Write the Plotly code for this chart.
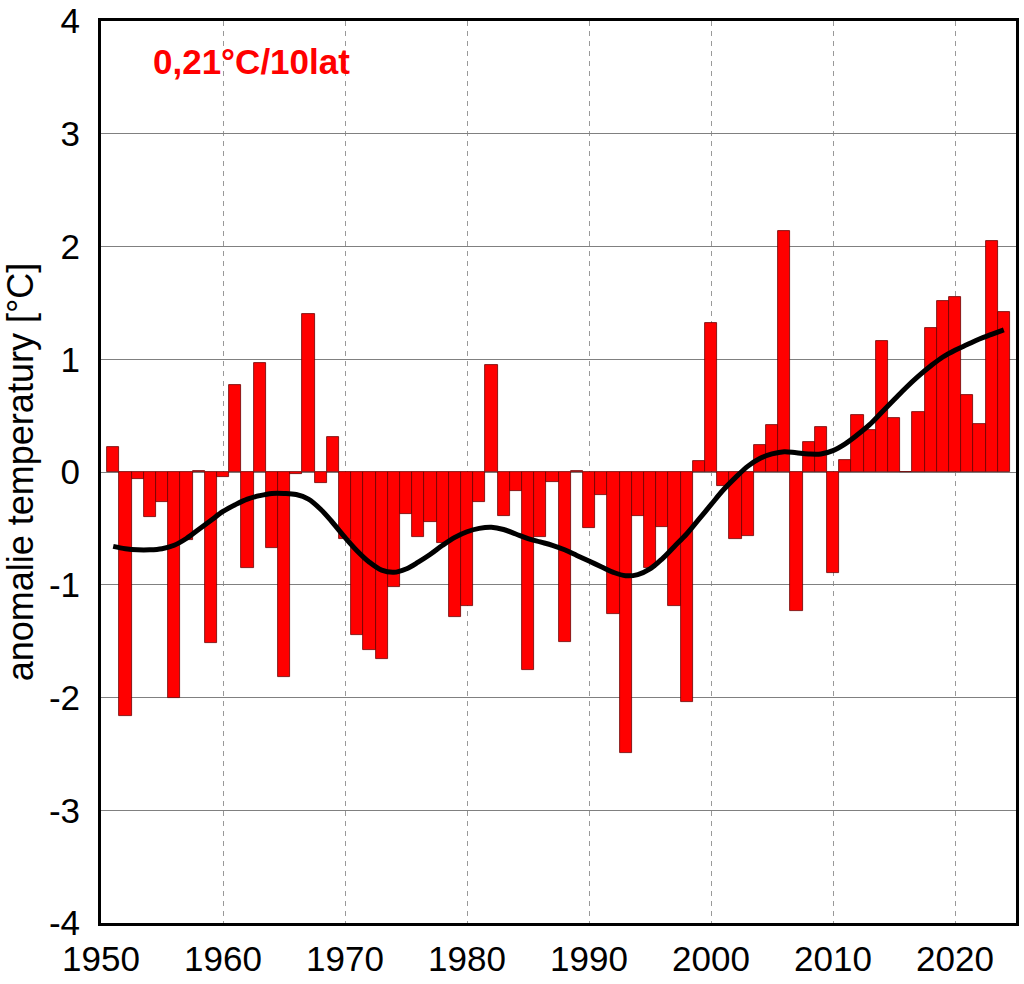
import plotly.graph_objects as go

years = list(range(1951, 2025))
anomaly = [
    0.22, -2.16, -0.06, -0.40, -0.27, -2.00, -0.60, 0.01, -1.52, -0.04,
    0.77, -0.85, 0.97, -0.67, -1.82, -0.02, 1.40, -0.10, 0.31, -0.59,
    -1.45, -1.58, -1.66, -1.02, -0.37, -0.58, -0.44, -0.63, -1.29, -1.19,
    -0.27, 0.95, -0.39, -0.17, -1.76, -0.58, -0.09, -1.51, 0.01, -0.50,
    -0.20, -1.26, -2.49, -0.39, -0.85, -0.49, -1.19, -2.04, 0.10, 1.32,
    -0.12, -0.59, -0.57, 0.24, 0.42, 2.14, -1.23, 0.27, 0.40, -0.90,
    0.11, 0.51, 0.37, 1.16, 0.48, 0.00, 0.53, 1.28, 1.52, 1.55,
    0.68, 0.43, 2.05, 1.42,
]
trend = [
    -0.66, -0.68, -0.69, -0.69, -0.68, -0.65, -0.59, -0.51, -0.43, -0.35,
    -0.29, -0.24, -0.21, -0.19, -0.19, -0.20, -0.24, -0.33, -0.45, -0.58,
    -0.70, -0.80, -0.87, -0.89, -0.86, -0.80, -0.73, -0.65, -0.58, -0.53,
    -0.50, -0.49, -0.51, -0.55, -0.59, -0.62, -0.65, -0.69, -0.74, -0.79,
    -0.84, -0.89, -0.92, -0.91, -0.86, -0.77, -0.66, -0.55, -0.42, -0.29,
    -0.16, -0.05, 0.05, 0.12, 0.16, 0.18, 0.17, 0.16, 0.16, 0.19,
    0.25, 0.33, 0.42, 0.53, 0.64, 0.75, 0.85, 0.94, 1.02, 1.08,
    1.13, 1.18, 1.22, 1.26,
]
x_ticks = list(range(1950, 2030, 10))
y_ticks = list(range(-4, 5))
trend_label = "0,21°C/10lat"
y_title = "anomalie temperatury [°C]"

FONT = "Liberation Sans, Arial, sans-serif"

fig = go.Figure()
fig.add_trace(go.Bar(
    x=years, y=anomaly, width=1.0,
    marker=dict(color="#FF0000", line=dict(color="#6a0000", width=0.8)),
    showlegend=False,
))
fig.add_trace(go.Scatter(
    x=years, y=trend, mode="lines",
    line=dict(color="black", width=5, shape="spline", smoothing=1.0),
    showlegend=False,
))

fig.add_annotation(
    x=0.055, y=0.955, xref="paper", yref="paper",
    xanchor="left", yanchor="middle", showarrow=False,
    text="<b>" + trend_label + "</b>",
    font=dict(family=FONT, size=35, color="#FF0000"),
)

fig.update_layout(
    width=1024, height=984,
    margin=dict(l=101, r=8, t=21, b=61),
    paper_bgcolor="white", plot_bgcolor="white",
    bargap=0,
    font=dict(family=FONT, size=34, color="black"),
)
fig.update_xaxes(
    range=[1950, 2025], tickvals=x_ticks, ticktext=[str(v) for v in x_ticks],
    showgrid=True, gridcolor="#999999", gridwidth=1, griddash="5px,5px",
    showline=True, linecolor="black", linewidth=3, mirror=True,
    ticks="", ticklabelstandoff=3, zeroline=False, automargin=False,
    tickfont=dict(family=FONT, size=35),
)
fig.update_yaxes(
    range=[-4, 4], tickvals=y_ticks, ticktext=[str(v) for v in y_ticks],
    showgrid=True, gridcolor="#808080", gridwidth=1,
    showline=True, linecolor="black", linewidth=3, mirror=True,
    ticks="", ticklabelstandoff=11, zeroline=False, automargin=False,
    tickfont=dict(family=FONT, size=35),
    title=dict(text=y_title, font=dict(family=FONT, size=36), standoff=7),
)

fig.write_html(
    "out.html",
    config={"displayModeBar": False},
    post_script="document.body.style.margin='0';document.body.style.padding='0';",
)
